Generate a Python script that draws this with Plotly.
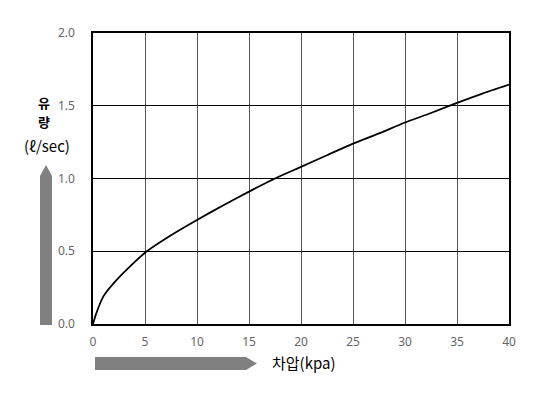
import plotly.graph_objects as go

pressure_kpa = [0, 0.3, 1, 2.5, 5, 7.5, 10, 12.5, 15, 17.5, 20, 22.5, 25, 27.5, 30, 32.5, 35, 37.5, 40]
flow_lps = [0, 0.07, 0.19, 0.32, 0.49, 0.61, 0.715, 0.815, 0.91, 1.0, 1.08, 1.16, 1.24, 1.31, 1.385, 1.45, 1.52, 1.585, 1.645]

x_ticks = [0, 5, 10, 15, 20, 25, 30, 35, 40]
y_ticks = [0.0, 0.5, 1.0, 1.5, 2.0]

OFF = 8  # page body margin
W, H = 542, 393
L, T = 93 - OFF, 33 - OFF
R = W - (509 - OFF)
B = H - (324 - OFF)
pw, ph = W - L - R, H - T - B

def px(x):
    return (x - OFF - L) / pw

def py(y):
    return (H - B - (y - OFF)) / ph

fig = go.Figure()
fig.add_trace(go.Scatter(x=pressure_kpa, y=flow_lps, mode="lines",
                         line=dict(color="black", width=1.8, shape="spline", smoothing=0.6),
                         showlegend=False, hoverinfo="skip"))

tickfont = dict(family="Noto Sans, DejaVu Sans", size=12, color="#666666")
fig.update_layout(
    width=W, height=H,
    margin=dict(l=L, r=R, t=T, b=B),
    paper_bgcolor="white", plot_bgcolor="white",
    xaxis=dict(range=[0, 40], tickvals=x_ticks, ticktext=[str(v) for v in x_ticks],
               showgrid=True, gridcolor="#555555", gridwidth=1,
               showline=True, linecolor="black", linewidth=1.5, mirror=True,
               zeroline=False, ticks="", tickfont=tickfont, ticklabelstandoff=6),
    yaxis=dict(range=[0, 2.0], tickvals=y_ticks, ticktext=[f"{v:.1f}" for v in y_ticks],
               showgrid=True, gridcolor="black", gridwidth=1,
               showline=True, linecolor="black", linewidth=1.5, mirror=True,
               zeroline=False, ticks="", tickfont=tickfont, ticklabelstandoff=14),
)

gray = "#808080"
# vertical arrow
x0, x1 = px(40), px(52)
xm = (x0 + x1) / 2
fig.add_shape(type="path", xref="paper", yref="paper",
              path=f"M {x0} {py(325)} L {x1} {py(325)} L {x1} {py(176)} L {xm} {py(165)} L {x0} {py(176)} Z",
              fillcolor=gray, line=dict(width=0))
# horizontal arrow
y0, y1 = py(357), py(370)
ym = (y0 + y1) / 2
fig.add_shape(type="path", xref="paper", yref="paper",
              path=f"M {px(95)} {y0} L {px(246)} {y0} L {px(257)} {ym} L {px(246)} {y1} L {px(95)} {y1} Z",
              fillcolor=gray, line=dict(width=0))

labfont = dict(family="Noto Sans CJK KR", size=15, color="black")
boldfont = dict(family="Noto Sans CJK KR", size=13, color="black")
fig.add_annotation(xref="paper", yref="paper", x=px(44), y=py(102), text="<b>유</b>",
                   showarrow=False, font=boldfont, xanchor="center", yanchor="middle", borderpad=0)
fig.add_annotation(xref="paper", yref="paper", x=px(44), y=py(121), text="<b>량</b>",
                   showarrow=False, font=boldfont, xanchor="center", yanchor="middle", borderpad=0)
fig.add_annotation(xref="paper", yref="paper", x=px(47), y=py(145), text="(ℓ/sec)",
                   showarrow=False, font=labfont, xanchor="center", yanchor="middle")
fig.add_annotation(xref="paper", yref="paper", x=px(270), y=py(362), text="차압(kpa)",
                   showarrow=False, font=labfont, xanchor="left", yanchor="middle")

fig.write_html("out.html")
